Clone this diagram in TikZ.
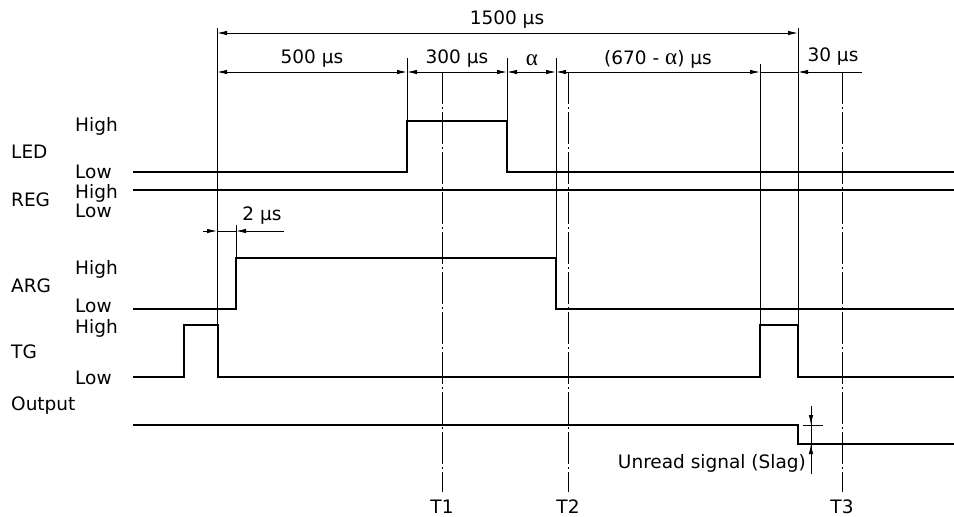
\documentclass[tikz,border=0pt]{standalone}
\usepackage{fontspec}
\setmainfont{DejaVu Sans}
\newfontfamily\grk{Liberation Serif}
\usetikzlibrary{arrows.meta}
\begin{document}
\begin{tikzpicture}[x=1pt,y=-1pt,
  sig/.style={line width=1.2pt},
  ext/.style={line width=0.9pt},
  tipd/.style={line width=0.9pt,-{Latex[length=10pt,width=4.5pt]}},
  both/.style={line width=0.9pt,{Latex[length=10pt,width=4.5pt]}-{Latex[length=10pt,width=4.5pt]}},
  axisline/.style={line width=0.9pt, dash pattern=on 32pt off 3pt on 2pt off 3pt},
  lbl/.style={font=\fontsize{18.5}{22}\selectfont, inner sep=0pt},
]
\useasboundingbox (0,0) rectangle (954,517);

% signals
\draw[sig] (133,172) -- (407,172) -- (407,121) -- (507,121) -- (507,172) -- (954,172);
\draw[sig] (133,190) -- (954,190);
\draw[sig] (133,309) -- (236,309) -- (236,258) -- (556,258) -- (556,309) -- (954,309);
\draw[sig] (133,377) -- (184,377) -- (184,325) -- (218,325) -- (218,377) -- (760,377) -- (760,325) -- (798,325) -- (798,377) -- (954,377);
\draw[sig] (133,425) -- (798,425) -- (798,444) -- (954,444);

% extension lines
\draw[ext] (217,28) -- (217,325);
\draw[ext] (407,58) -- (407,121);
\draw[ext] (507,58) -- (507,121);
\draw[ext] (556,58) -- (556,258);
\draw[ext] (760,64) -- (760,325);
\draw[ext] (798,28) -- (798,325);
\draw[ext] (236,225) -- (236,258);

% time axes
\coordinate (t1top) at (442,72); \coordinate (t1bot) at (442,492);
\coordinate (t2top) at (568,72); \coordinate (t2bot) at (568,492);
\coordinate (t3top) at (842,72); \coordinate (t3bot) at (842,492);
\draw[axisline] (t1top) -- (t1bot);
\draw[axisline] (t2top) -- (t2bot);
\draw[axisline] (t3top) -- (t3bot);

% dimensions
\draw[both] (217,33) -- (798,33);
\draw[both] (217,72) -- (407,72);
\draw[both] (407,72) -- (507,72);
\draw[both] (507,72) -- (556,72);
\draw[both] (556,72) -- (760,72);
\draw[ext] (760,72) -- (798,72);
\draw[tipd] (862,72) -- (798,72);

\draw[tipd] (203,231) -- (217,231);
\draw[ext] (217,231) -- (236,231);
\draw[tipd] (284,231) -- (236,231);

\draw[ext] (811,406) -- (811,474);
\draw[tipd] (811,406) -- (811,425);
\draw[tipd] (811,474) -- (811,444);
\draw[ext] (803,425) -- (823,425);

% dimension texts
\node[lbl] (d1500) at (507,20) {1500 µs};
\node[lbl] (d500) at (312,59) {500 µs};
\node[lbl] (d300) at (457,59) {300 µs};
\node[lbl,font=\fontsize{23}{26}\selectfont\grk] (dal) at (532,60) {α};
\node[lbl] (d670) at (658,59) {(670 - {\fontsize{23}{26}\selectfont\grk α}) µs};
\node[lbl] (d30) at (833,57) {30 µs};
\node[lbl] (d2) at (262,216) {2 µs};

% signal labels
\node[lbl,anchor=west] (ledn) at (11,152) {LED};
\node[lbl,anchor=west] (ledh) at (75,126) {High};
\node[lbl,anchor=west] (ledl) at (75,172) {Low};
\node[lbl,anchor=west] (regn) at (11,200) {REG};
\node[lbl,anchor=west] (regh) at (75,193) {High};
\node[lbl,anchor=west] (regl) at (75,211) {Low};
\node[lbl,anchor=west] (argn) at (11,286) {ARG};
\node[lbl,anchor=west] (argh) at (75,269) {High};
\node[lbl,anchor=west] (argl) at (75,306) {Low};
\node[lbl,anchor=west] (tgn) at (11,352) {TG};
\node[lbl,anchor=west] (tgh) at (75,328) {High};
\node[lbl,anchor=west] (tgl) at (75,378) {Low};
\node[lbl,anchor=west] (outn) at (11,406) {Output};

\node[lbl,anchor=east] (slag) at (806,463) {Unread signal (Slag)};
\node[lbl] (T1) at (442,507) {T1};
\node[lbl] (T2) at (568,507) {T2};
\node[lbl] (T3) at (842,507) {T3};
\end{tikzpicture}
\end{document}
